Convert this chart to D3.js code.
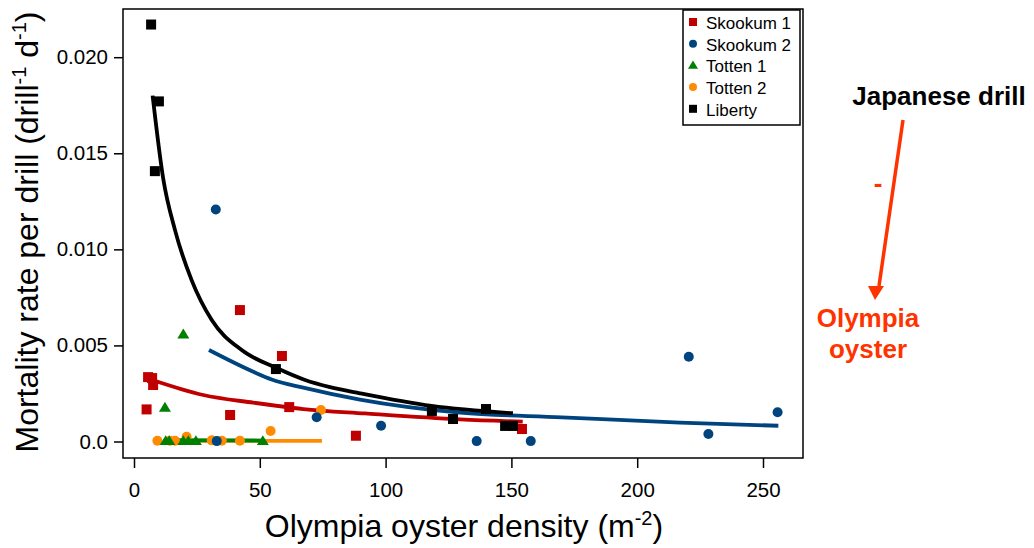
<!DOCTYPE html>
<html>
<head>
<meta charset="utf-8">
<script src="https://cdn.jsdelivr.net/npm/d3@7/dist/d3.min.js"></script>
<style>
  html, body { margin: 0; padding: 0; background: #fff; }
  svg { display: block; font-family: "Liberation Sans", Arial, sans-serif; }
</style>
</head>
<body>
<svg id="chart" width="1034" height="548"></svg>
<script>
// ---------- data ----------
const xTicks = [0, 50, 100, 150, 200, 250];
const yTicks = [0, 0.005, 0.010, 0.015, 0.020];
const yTickLabels = ["0.0", "0.005", "0.010", "0.015", "0.020"];

const seriesNames = ["Skookum 1", "Skookum 2", "Totten 1", "Totten 2", "Liberty"];

// points [density, mortality rate]
const skookum1 = [[5.0,0.00167],[5.6,0.00335],[7.2,0.00330],[7.6,0.00294],[38.2,0.00138],
  [42.1,0.00684],[58.8,0.00445],[61.7,0.00179],[88.2,0.00030],[154.2,0.00065]];
const skookum2 = [[32.5,0.01207],[32.9,0.00002],[72.6,0.00126],[98.2,0.00082],[136.2,0.00002],
  [157.7,0.00002],[220.5,0.00441],[228.3,0.00039],[255.8,0.00152]];
const totten1 = [[19.6,0.00557],[12.3,0.00176],[12.6,0.00002],[14.0,0.00002],[19.6,0.00002],
  [21.6,0.00002],[24.6,0.00002],[51.2,0.00002]];
const totten2 = [[9.3,0.00004],[14.2,0.00004],[16.3,0.00004],[20.9,0.00025],[30.9,0.00006],
  [34.9,0.00004],[42.1,0.00004],[54.3,0.00055],[74.3,0.00164]];
const liberty = [[6.8,0.0217],[9.9,0.0177],[8.3,0.01407],[56.4,0.00377],[118.4,0.00159],
  [126.8,0.00117],[139.9,0.00169],[147.5,0.00081],[150.6,0.00081]];

// fitted curves
const fitLiberty = [[7.4,0.0180],[11.6,0.01369],[16.3,0.0110],[22.9,0.0084],[30.9,0.00632],
  [42.8,0.00476],[56.7,0.00382],[68,0.0032],[77.9,0.00283],[89.8,0.00251],[118.3,0.00185],[150.6,0.00147]];
const fitSkookum2 = [[29.8,0.00476],[47.4,0.00363],[54.7,0.00323],[67.3,0.0028],[89.8,0.00218],
  [129.6,0.0015],[170,0.00126],[217,0.00098],[256.1,0.00082]];
const fitSkookum1 = [[7.3,0.0032],[27.5,0.00242],[47.4,0.00202],[67.3,0.00169],[91.8,0.00146],
  [129.6,0.00115],[154.5,0.00103]];
const fitTotten2 = [[11.5,0.00003],[74.7,0.00003]];
const fitTotten1 = [[13.0,0.00007],[51.4,0.00005]];

const colors = { "Skookum 1": "#c00000", "Skookum 2": "#00447f", "Totten 1": "#008000",
  "Totten 2": "#ff8c00", "Liberty": "#000000" };
const shapes = { "Skookum 1": "square", "Skookum 2": "circle", "Totten 1": "triangle",
  "Totten 2": "circle", "Liberty": "square" };

// ---------- layout ----------
const svg = d3.select("#chart");
const frame = { left: 123, top: 9, right: 803, bottom: 458 };
const x = d3.scaleLinear().domain([0, 250]).range([134, 763]);
const y = d3.scaleLinear().domain([0, 0.02]).range([441.5, 57.2]);

// frame
svg.append("rect").attr("x", frame.left).attr("y", frame.top)
  .attr("width", frame.right - frame.left).attr("height", frame.bottom - frame.top)
  .attr("fill", "none").attr("stroke", "#000").attr("stroke-width", 1.5);

// axes
const xAxis = svg.append("g").attr("transform", `translate(0,${frame.bottom})`)
  .call(d3.axisBottom(x).tickValues(xTicks).tickSize(10).tickPadding(14).tickFormat(d3.format("d")));
const yAxis = svg.append("g").attr("transform", `translate(${frame.left},0)`)
  .call(d3.axisLeft(y).tickValues(yTicks).tickSize(9).tickPadding(6)
    .tickFormat((d, i) => yTickLabels[i]));
[xAxis, yAxis].forEach(g => {
  g.select(".domain").remove();
  g.selectAll(".tick line").attr("stroke", "#000").attr("stroke-width", 1.5);
  g.selectAll(".tick text").attr("fill", "#000").style("font-size", "20.5px")
    .style("font-family", "'Liberation Sans', Arial, sans-serif");
});

// fitted lines
const line = d3.line().x(d => x(d[0])).y(d => y(d[1])).curve(d3.curveMonotoneX);
const fits = [
  [fitTotten2, colors["Totten 2"], 3.8],
  [fitTotten1, colors["Totten 1"], 3.8],
  [fitSkookum1, colors["Skookum 1"], 3.8],
  [fitSkookum2, colors["Skookum 2"], 3.8],
  [fitLiberty, colors["Liberty"], 3.8]
];
fits.forEach(([data, c, w]) => {
  svg.append("path").datum(data).attr("d", line).attr("fill", "none")
    .attr("stroke", c).attr("stroke-width", w);
});

// markers
function drawMarker(g, shape, cx, cy, color, s) {
  if (shape === "square") {
    g.append("rect").attr("x", cx - s / 2).attr("y", cy - s / 2).attr("width", s).attr("height", s)
      .attr("fill", color);
  } else if (shape === "circle") {
    g.append("circle").attr("cx", cx).attr("cy", cy).attr("r", s / 2).attr("fill", color);
  } else {
    const h = s * 0.9;
    g.append("path").attr("d", `M${cx},${cy - h * 0.6}L${cx + s / 2 + 0.5},${cy + h * 0.4}L${cx - s / 2 - 0.5},${cy + h * 0.4}Z`)
      .attr("fill", color);
  }
}
const pts = svg.append("g");
const allSeries = [["Totten 2", totten2], ["Skookum 2", skookum2], ["Totten 1", totten1],
  ["Skookum 1", skookum1], ["Liberty", liberty]];
allSeries.forEach(([name, data]) => {
  data.forEach(d => drawMarker(pts, shapes[name], x(d[0]), y(d[1]), colors[name],
    shapes[name] === "triangle" ? 11 : 10));
});

// legend
const lg = svg.append("g");
lg.append("rect").attr("x", 683).attr("y", 10).attr("width", 117).attr("height", 115)
  .attr("fill", "#fff").attr("stroke", "#000").attr("stroke-width", 1.5);
seriesNames.forEach((name, i) => {
  const cy = 23 + i * 21.7;
  drawMarker(lg, shapes[name], 693, cy - 1, colors[name], shapes[name] === "triangle" ? 9 : 8);
  lg.append("text").attr("x", 706).attr("y", cy + 6).text(name)
    .style("font-size", "17px").attr("fill", "#000");
});

// axis titles
const xt = svg.append("text").attr("x", 464).attr("y", 537).attr("text-anchor", "middle")
  .style("font-size", "32px").attr("fill", "#000");
xt.append("tspan").text("Olympia oyster density (m");
xt.append("tspan").text("-2").style("font-size", "20px").attr("dy", -12);
xt.append("tspan").text(")").attr("dy", 12);

const yt = svg.append("text").attr("transform", "translate(38,232) rotate(-90)")
  .attr("text-anchor", "middle").style("font-size", "32px").attr("fill", "#000");
yt.append("tspan").text("Mortality rate per drill (drill");
yt.append("tspan").text("-1").style("font-size", "20px").attr("dy", -12);
yt.append("tspan").text(" d").attr("dy", 12);
yt.append("tspan").text("-1").style("font-size", "20px").attr("dy", -12);
yt.append("tspan").text(")").attr("dy", 12);

// annotation
const red = "#ff3300";
svg.append("text").attr("x", 939).attr("y", 105).attr("text-anchor", "middle")
  .style("font-size", "26px").style("font-weight", "bold").attr("fill", "#000").text("Japanese drill");
svg.append("line").attr("x1", 903).attr("y1", 120).attr("x2", 879).attr("y2", 286)
  .attr("stroke", red).attr("stroke-width", 3.5);
svg.append("path").attr("d", "M868,286L884,286L875,300Z").attr("fill", red);
svg.append("text").attr("x", 878).attr("y", 192).attr("text-anchor", "middle")
  .style("font-size", "26px").style("font-weight", "bold").attr("fill", red).text("-");
svg.append("text").attr("x", 868).attr("y", 327).attr("text-anchor", "middle")
  .style("font-size", "26px").style("font-weight", "bold").attr("fill", red).text("Olympia");
svg.append("text").attr("x", 868).attr("y", 358).attr("text-anchor", "middle")
  .style("font-size", "26px").style("font-weight", "bold").attr("fill", red).text("oyster");
</script>
</body>
</html>
